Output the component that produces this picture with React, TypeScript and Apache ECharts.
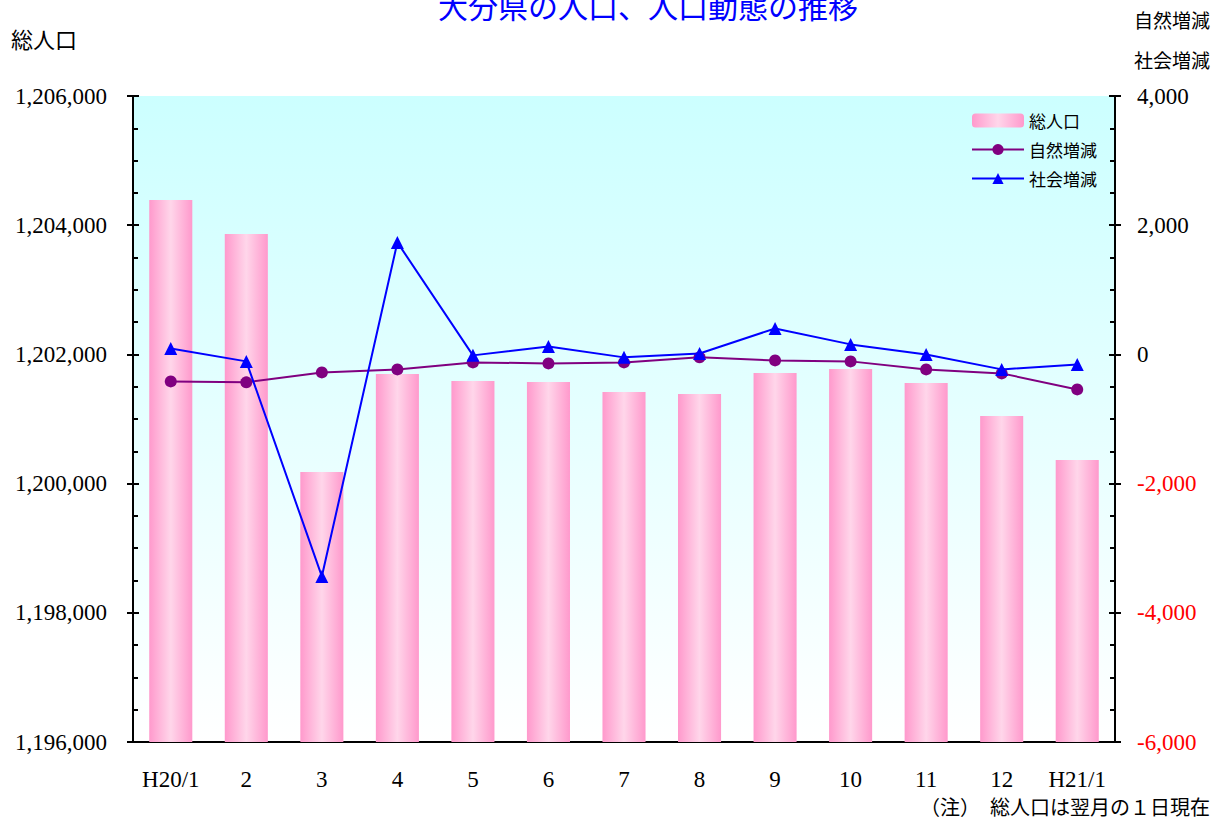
import React, { useEffect, useRef } from "react";
import * as echarts from "echarts";

const categories = ["H20/1", "2", "3", "4", "5", "6", "7", "8", "9", "10", "11", "12", "H21/1"];
const totalPopulation = [1204390, 1203864, 1200180, 1201697, 1201588, 1201573, 1201418, 1201387, 1201712, 1201774, 1201557, 1201046, 1200365];
const naturalChange = [-418, -433, -279, -232, -124, -139, -124, -46, -93, -108, -232, -294, -542];
const socialChange = [93, -108, -3437, 1734, -15, 124, -46, 15, 402, 155, 0, -232, -155];
const leftTicks = { min: 1196000, max: 1206000, interval: 2000 };
const rightTicks = { min: -6000, max: 4000, interval: 2000 };

const serif = "'Liberation Serif', 'Times New Roman', serif";
const sans = "'Noto Sans CJK JP', 'Noto Sans', sans-serif";

export default function App() {
  const ref = useRef<HTMLDivElement>(null);
  useEffect(() => {
    if (!ref.current) return;
    const chart = echarts.init(ref.current, undefined, { renderer: "svg" });
    const fmt = (v: number) => v.toLocaleString("en-US");
    const barGrad = new echarts.graphic.LinearGradient(0, 0, 1, 0, [
      { offset: 0, color: "#ff99cc" },
      { offset: 0.5, color: "#ffd6ea" },
      { offset: 1, color: "#ff99cc" },
    ]);
    const commonAxis = {
      type: "value",
      splitLine: { show: false },
    };
    chart.setOption({
      animation: false,
      grid: {
        left: 133,
        right: 98,
        top: 96,
        bottom: 79,
        show: true,
        borderWidth: 0,
        backgroundColor: new echarts.graphic.LinearGradient(0, 0, 0, 1, [
          { offset: 0, color: "#ccffff" },
          { offset: 1, color: "#ffffff" },
        ]),
      },
      graphic: [
        { type: "text", left: 438, top: -10, style: { text: "大分県の人口、人口動態の推移", fill: "#0000ff", font: `30px ${sans}` } },
        { type: "text", left: 11, top: 27, style: { text: "総人口", fill: "#000", font: `22px ${sans}` } },
        { type: "text", right: 3, top: 10, style: { text: "自然増減", fill: "#000", font: `19px ${sans}` } },
        { type: "text", right: 3, top: 50, style: { text: "社会増減", fill: "#000", font: `19px ${sans}` } },
        { type: "text", right: 3, top: 796, style: { text: "（注）　総人口は翌月の１日現在", fill: "#000", font: `20px ${sans}` } },
      ],
      legend: {
        orient: "vertical",
        left: 966,
        top: 107,
        itemWidth: 52,
        itemHeight: 14,
        itemGap: 12,
        textStyle: { fontFamily: sans, fontSize: 17, color: "#000" },
        data: ["総人口", "自然増減", "社会増減"],
      },
      xAxis: {
        type: "category",
        data: categories,
        axisLine: { onZero: false, lineStyle: { color: "#000", width: 2 } },
        axisTick: { show: false },
        axisLabel: { fontFamily: serif, fontSize: 23, color: "#000", margin: 26 },
      },
      yAxis: [
        {
          ...commonAxis,
          position: "left",
          ...leftTicks,
          axisLine: { show: true, lineStyle: { color: "#000", width: 2 } },
          axisTick: { show: true, inside: true, length: 6, lineStyle: { color: "#000", width: 2 } },
          minorTick: { show: true, splitNumber: 4, length: 5, lineStyle: { color: "#000", width: 2 } },
          axisLabel: { fontFamily: serif, fontSize: 23, color: "#000", margin: 26, formatter: fmt },
        },
        {
          ...commonAxis,
          position: "right",
          ...rightTicks,
          axisLine: { show: true, lineStyle: { color: "#000", width: 2 } },
          axisTick: { show: true, inside: true, length: 6, lineStyle: { color: "#000", width: 2 } },
          minorTick: { show: true, splitNumber: 4, length: 5, lineStyle: { color: "#000", width: 2 } },
          axisLabel: {
            fontFamily: serif,
            fontSize: 23,
            margin: 22,
            formatter: fmt,
            color: (v: any) => (Number(v) < 0 ? "#ff0000" : "#000000"),
          },
        },
        {
          ...commonAxis,
          position: "left",
          ...leftTicks,
          axisLine: { show: false },
          axisTick: { show: true, inside: false, length: 6, lineStyle: { color: "#000", width: 2 } },
          axisLabel: { show: false },
        },
        {
          ...commonAxis,
          position: "right",
          ...rightTicks,
          axisLine: { show: false },
          axisTick: { show: true, inside: false, length: 6, lineStyle: { color: "#000", width: 2 } },
          axisLabel: { show: false },
        },
      ],
      series: [
        {
          name: "総人口",
          type: "bar",
          yAxisIndex: 0,
          data: totalPopulation,
          barWidth: "57%",
          itemStyle: { color: barGrad },
          z: 1,
        },
        {
          name: "自然増減",
          type: "line",
          yAxisIndex: 1,
          data: naturalChange,
          symbol: "circle",
          symbolSize: 12,
          lineStyle: { color: "#800080", width: 2 },
          itemStyle: { color: "#800080" },
          z: 3,
        },
        {
          name: "社会増減",
          type: "line",
          yAxisIndex: 1,
          data: socialChange,
          symbol: "triangle",
          symbolSize: 13,
          lineStyle: { color: "#0000ff", width: 2 },
          itemStyle: { color: "#0000ff" },
          z: 4,
        },
      ],
    });
    return () => chart.dispose();
  }, []);
  return <div ref={ref} style={{ width: 1213, height: 821, position: "absolute", left: 0, top: 0 }} />;
}
